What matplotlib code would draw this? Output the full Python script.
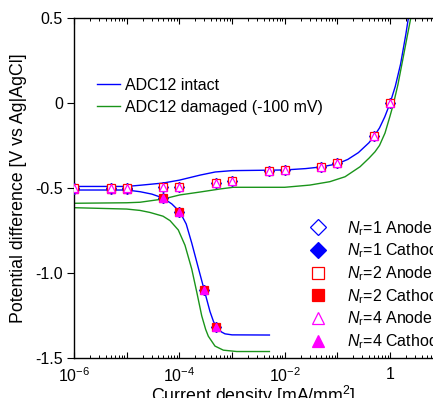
import numpy as np
import matplotlib
matplotlib.use('Agg')
import matplotlib.pyplot as plt
import matplotlib.ticker as ticker

plt.rcParams['font.family'] = 'Liberation Sans'
plt.rcParams['font.size'] = 11.5
plt.rcParams['axes.unicode_minus'] = False
plt.rcParams['mathtext.fontset'] = 'custom'
plt.rcParams['mathtext.rm'] = 'Liberation Sans'
plt.rcParams['mathtext.it'] = 'Liberation Sans:italic'

# polarization curves, current density in mA/mm2, potential in V
intact_an_x = [1e-6, 1e-5, 1.8e-5, 4.9e-5, 1.0e-4, 2.5e-4, 4.8e-4, 1.0e-3, 3.4e-3, 1e-2,
               0.025, 0.05, 0.1, 0.158, 0.251, 0.398, 0.501, 0.631, 0.794, 1.0,
               1.259, 1.585, 1.995, 2.239]
intact_an_y = [-0.489, -0.489, -0.482, -0.469, -0.452, -0.422, -0.404, -0.396, -0.394, -0.392,
               -0.384, -0.374, -0.356, -0.33, -0.29, -0.232, -0.192, -0.145, -0.08, 0.0,
               0.1, 0.23, 0.405, 0.505]

intact_ca_x = [1e-6, 1e-5, 1.8e-5, 3.0e-5, 4.9e-5, 7.2e-5, 1.02e-4, 1.35e-4, 1.72e-4, 2.26e-4,
               2.98e-4, 3.82e-4, 4.47e-4, 5.13e-4, 6.31e-4, 7.36e-4, 1.0e-3, 5.13e-3]
intact_ca_y = [-0.51, -0.51, -0.52, -0.534, -0.557, -0.592, -0.638, -0.71, -0.822, -0.961,
               -1.10, -1.225, -1.285, -1.318, -1.345, -1.356, -1.362, -1.363]

damaged_an_x = [1e-6, 1e-5, 1.79e-5, 4.9e-5, 1.02e-4, 2.45e-4, 5.9e-4, 1.05e-3, 3.4e-3, 1e-2,
                0.03, 0.072, 0.14, 0.27, 0.398, 0.519, 0.631, 0.803, 1.0, 1.156,
                1.413, 1.778, 2.138, 2.472]
damaged_an_y = [-0.588, -0.585, -0.582, -0.563, -0.539, -0.522, -0.504, -0.494, -0.494, -0.494,
                -0.481, -0.461, -0.432, -0.373, -0.323, -0.285, -0.248, -0.175, -0.075, -0.005,
                0.11, 0.27, 0.40, 0.50]

damaged_ca_x = [1e-6, 1e-5, 1.79e-5, 2.77e-5, 4.9e-5, 6.65e-5, 9.55e-5, 1.28e-4, 1.72e-4, 2.14e-4,
                2.66e-4, 3.16e-4, 3.55e-4, 4.75e-4, 6.84e-4, 1.23e-3, 5.13e-3]
damaged_ca_y = [-0.614, -0.622, -0.630, -0.642, -0.664, -0.69, -0.745, -0.835, -0.975, -1.11,
                -1.25, -1.33, -1.37, -1.428, -1.452, -1.46, -1.46]

# measured points (Nr = 1, 2, 4 lie on top of each other)
anode_x = [1e-6, 5e-6, 1e-5, 5e-5, 1e-4, 5e-4, 1e-3, 5e-3, 1e-2, 5e-2, 0.1, 0.5, 1.0]
anode_y = [-0.50, -0.50, -0.50, -0.492, -0.49, -0.47, -0.455, -0.396, -0.392, -0.377, -0.353, -0.192, 0.0]
cathode_x = [1e-6, 5e-6, 1e-5, 5e-5, 1e-4, 3e-4, 5e-4]
cathode_y = [-0.505, -0.505, -0.505, -0.559, -0.638, -1.098, -1.318]

nr_values = [1, 2, 4]
nr_colors = ['#0000ff', '#ff0000', '#ff00ff']
nr_markers = ['D', 's', '^']
nr_sizes = [5.1, 5.8, 6.0]

fig = plt.figure(figsize=(4.33, 3.98), dpi=100)
ax = fig.add_axes([0.1709, 0.0997, 0.8291, 0.8543])

l1, = ax.plot(intact_an_x, intact_an_y, color='#0000ff', lw=1.0, zorder=2, label='ADC12 intact')
ax.plot(intact_ca_x, intact_ca_y, color='#0000ff', lw=1.0, zorder=2)
l2, = ax.plot(damaged_an_x, damaged_an_y, color='#1a941a', lw=1.0, zorder=2,
              label='ADC12 damaged (-100 mV)')
ax.plot(damaged_ca_x, damaged_ca_y, color='#1a941a', lw=1.0, zorder=2)

point_handles = []
for i, (nr, c, m, s) in enumerate(zip(nr_values, nr_colors, nr_markers, nr_sizes)):
    ha, = ax.plot(anode_x, anode_y, ls='none', marker=m, ms=s, mec=c, mfc='white', mew=0.9,
                  zorder=6 + i, label=r'$N_{\mathrm{r}}$=%d Anode' % nr)
    hc, = ax.plot(cathode_x, cathode_y, ls='none', marker=m, ms=s, mec=c, mfc=c, mew=0.9,
                  zorder=3 + i, label=r'$N_{\mathrm{r}}$=%d Cathod' % nr)
    point_handles += [ha, hc]

ax.set_xscale('log')
ax.set_xlim(1e-6, 10 ** 0.816)
ax.set_ylim(-1.5, 0.5)

ax.xaxis.set_major_locator(ticker.LogLocator(base=10, numticks=20))
ax.xaxis.set_minor_locator(ticker.LogLocator(base=10, subs=np.arange(2, 10), numticks=20))


def xfmt(v, pos):
    e = int(round(np.log10(v)))
    if e == 0:
        return '1'
    if e % 2 == 0:
        return r'$10^{%d}$' % e
    return ''


ax.xaxis.set_major_formatter(ticker.FuncFormatter(xfmt))
ax.xaxis.set_minor_formatter(ticker.NullFormatter())
ax.set_yticks([0.5, 0, -0.5, -1.0, -1.5])
ax.set_yticklabels(['0.5', '0', '-0.5', '-1.0', '-1.5'])

ax.tick_params(axis='x', which='both', direction='in', top=True, bottom=True, pad=6)
ax.tick_params(axis='x', which='major', length=4, width=0.8)
ax.tick_params(axis='x', which='minor', length=2.2, width=0.7)
ax.tick_params(axis='y', which='major', direction='out', length=5, width=0.8, pad=3, right=False)
ax.spines['right'].set_visible(False)
for sp in ['left', 'top', 'bottom']:
    ax.spines[sp].set_linewidth(1.0)

ax.set_xlabel(r'Current density [mA/mm$^2$]', fontsize=12.8)
ax.xaxis.set_label_coords(0.5, -0.074)
ax.set_ylabel('Potential difference [V vs Ag|AgCl]', fontsize=12.8)
ax.yaxis.set_label_coords(-0.131, 0.5)

leg1 = fig.legend(handles=[l1, l2], loc='upper left', bbox_to_anchor=(97 / 433, 1 - 78 / 398),
                  frameon=False, borderpad=0, borderaxespad=0, handlelength=1.44,
                  handletextpad=0.31, labelspacing=0.42, fontsize=11.5)
leg2 = fig.legend(handles=point_handles, loc='upper left', bbox_to_anchor=(302 / 433, 1 - 219 / 398),
                  frameon=False, borderpad=0, borderaxespad=0, handlelength=2.0,
                  handletextpad=0.82, labelspacing=0.25, fontsize=11.5, markerscale=1.5)

fig.savefig('out.png', dpi=100)
